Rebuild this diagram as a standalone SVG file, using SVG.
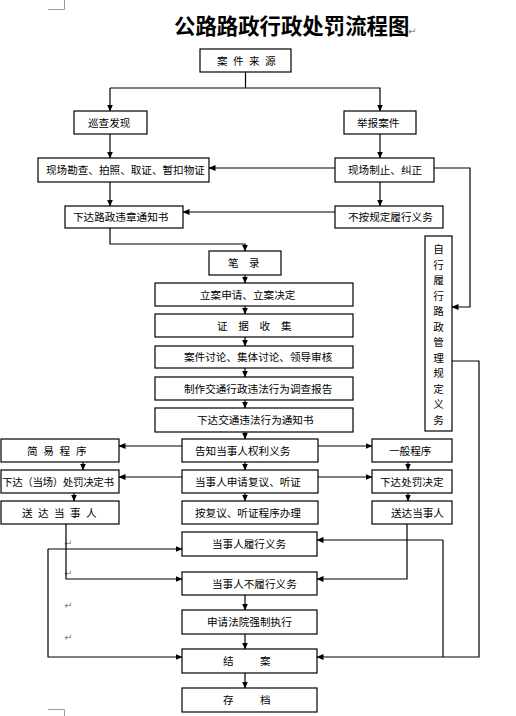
<svg xmlns="http://www.w3.org/2000/svg" width="516" height="716" viewBox="0 0 516 716">
<style>
.b{fill:#fff;stroke:#000;stroke-width:1.2}
.t{font-family:"Noto Sans CJK SC","Noto Sans",sans-serif;font-size:10.6px;fill:#000}
.c{stroke:#000;stroke-width:1.2;fill:none}
.a{marker-end:url(#ah)}
.m{font-family:"DejaVu Sans",sans-serif;font-size:10px;fill:#888}
.g{stroke:#999;stroke-width:1;fill:none}
</style>
<defs>
<marker id="ah" markerUnits="userSpaceOnUse" markerWidth="7" markerHeight="6" refX="6.5" refY="3" orient="auto">
<path d="M0,0 L7,3 L0,6 z" fill="#000"/>
</marker>
</defs>
<rect width="516" height="716" fill="#fff"/>
<path class="g" d="M48 9.5 H64.5 V0 M48 709.5 H64.5 V716"/>
<text x="174" y="34" font-family="'Noto Sans CJK SC',sans-serif" font-size="21.4" font-weight="bold" fill="#000">公路路政行政处罚流程图</text>
<text class="m" x="408" y="35">↵</text>
<text class="m" x="64" y="547">↵</text>
<text class="m" x="64" y="577">↵</text>
<text class="m" x="64" y="609">↵</text>
<text class="m" x="64" y="641">↵</text>

<g id="connectors">
<path class="c" d="M245.5 72 V88"/>
<path class="c a" d="M110 88 V111"/>
<path class="c a" d="M110 88 H380 V111"/>
<path class="c a" d="M110 134 V158"/>
<path class="c a" d="M380 134 V158"/>
<path class="c a" d="M335 168 H209"/>
<path class="c a" d="M434 168 H470 V307 H452"/>
<path class="c a" d="M110 182 V206"/>
<path class="c a" d="M380 182 V206"/>
<path class="c a" d="M335 212 H183"/>
<path class="c a" d="M110 228 V244 H245 V251"/>
<path class="c a" d="M245 275 V283"/>
<path class="c a" d="M245 306 V314"/>
<path class="c a" d="M245 337 V346"/>
<path class="c a" d="M245 368 V377"/>
<path class="c a" d="M245 400 V408"/>
<path class="c a" d="M245 432 V439"/>
<path class="c a" d="M245 462 V470"/>
<path class="c a" d="M245 493 V501"/>
<path class="c a" d="M182 446 H119"/>
<path class="c a" d="M182 477 H119"/>
<path class="c a" d="M318 446 H372"/>
<path class="c a" d="M318 477 H372"/>
<path class="c a" d="M83 462 V470"/>
<path class="c a" d="M74 493 V501"/>
<path class="c a" d="M408 462 V470"/>
<path class="c a" d="M408 493 V501"/>
<path class="c a" d="M66 524 V579 H182"/>
<path class="c a" d="M48 549 H182"/>
<path class="c a" d="M48 549 V657 H182"/>
<path class="c a" d="M407 524 V579 H317"/>
<path class="c a" d="M443 540 H317"/>
<path class="c" d="M443 540 V657"/>
<path class="c a" d="M452 361 H479 V657 H317"/>
<path class="c a" d="M245 595 V610"/>
<path class="c a" d="M245 634 V649"/>
<path class="c a" d="M245 673 V688"/>
</g>

<g id="n1"><rect class="b" x="200" y="49" width="91" height="23"/><text class="t" x="217" y="64.5" letter-spacing="5.4">案件来源</text></g>
<g id="n2"><rect class="b" x="74" y="111" width="73" height="23"/><text class="t" x="88" y="126.5">巡查发现</text></g>
<g id="n3"><rect class="b" x="344" y="111" width="72" height="23"/><text class="t" x="357" y="126.5">举报案件</text></g>
<g id="n4"><rect class="b" x="38" y="158" width="171" height="24"/><text class="t" x="46" y="174">现场勘查、拍照、取证、暂扣物证</text></g>
<g id="n5"><rect class="b" x="335" y="158" width="99" height="24"/><text class="t" x="348" y="174">现场制止、纠正</text></g>
<g id="n6"><rect class="b" x="65" y="206" width="118" height="22"/><text class="t" x="73" y="221">下达路政违章通知书</text></g>
<g id="n7"><rect class="b" x="335" y="206" width="108" height="22"/><text class="t" x="348" y="221">不按规定履行义务</text></g>
<g id="n8"><rect class="b" x="425" y="236" width="27" height="195"/>
<text class="t" x="438.5" text-anchor="middle" y="253">自</text>
<text class="t" x="438.5" text-anchor="middle" y="268.5">行</text>
<text class="t" x="438.5" text-anchor="middle" y="284">履</text>
<text class="t" x="438.5" text-anchor="middle" y="299.5">行</text>
<text class="t" x="438.5" text-anchor="middle" y="315">路</text>
<text class="t" x="438.5" text-anchor="middle" y="330.5">政</text>
<text class="t" x="438.5" text-anchor="middle" y="346">管</text>
<text class="t" x="438.5" text-anchor="middle" y="361.5">理</text>
<text class="t" x="438.5" text-anchor="middle" y="377">规</text>
<text class="t" x="438.5" text-anchor="middle" y="392.5">定</text>
<text class="t" x="438.5" text-anchor="middle" y="408">义</text>
<text class="t" x="438.5" text-anchor="middle" y="423.5">务</text>
</g>
<g id="n9"><rect class="b" x="209" y="251" width="72" height="24"/><text class="t" x="228" y="267" letter-spacing="10.5">笔录</text></g>
<g id="n10"><rect class="b" x="155" y="283" width="198" height="23"/><text class="t" x="200" y="298.5">立案申请、立案决定</text></g>
<g id="n11"><rect class="b" x="155" y="314" width="198" height="23"/><text class="t" x="217" y="329.5" letter-spacing="10.7">证据收集</text></g>
<g id="n12"><rect class="b" x="155" y="346" width="198" height="22"/><text class="t" x="184" y="361">案件讨论、集体讨论、领导审核</text></g>
<g id="n13"><rect class="b" x="155" y="377" width="198" height="23"/><text class="t" x="184" y="392.5">制作交通行政违法行为调查报告</text></g>
<g id="n14"><rect class="b" x="155" y="408" width="198" height="24"/><text class="t" x="197" y="424">下达交通违法行为通知书</text></g>
<g id="n15"><rect class="b" x="182" y="439" width="136" height="23"/><text class="t" x="195" y="454.5">告知当事人权利义务</text></g>
<g id="n16"><rect class="b" x="182" y="470" width="136" height="23"/><text class="t" x="195" y="485.5">当事人申请复议、听证</text></g>
<g id="n17"><rect class="b" x="182" y="501" width="136" height="23"/><text class="t" x="195" y="516.5">按复议、听证程序办理</text></g>
<g id="n18"><rect class="b" x="1" y="439" width="118" height="23"/><text class="t" x="27" y="454.5" letter-spacing="5.7">简易程序</text></g>
<g id="n19"><rect class="b" x="1" y="470" width="118" height="23"/><text class="t" x="2" y="485.5" letter-spacing="-0.45">下达（当场）处罚决定书</text></g>
<g id="n20"><rect class="b" x="1" y="501" width="118" height="23"/><text class="t" x="22" y="516.5" letter-spacing="5.4">送达当事人</text></g>
<g id="n21"><rect class="b" x="372" y="439" width="80" height="23"/><text class="t" x="389" y="454.5">一般程序</text></g>
<g id="n22"><rect class="b" x="372" y="470" width="80" height="23"/><text class="t" x="380" y="485.5" font-size="11">下达处罚决定</text></g>
<g id="n23"><rect class="b" x="372" y="501" width="80" height="23"/><text class="t" x="391" y="516.5">送达当事人</text></g>
<g id="n24"><rect class="b" x="182" y="532" width="135" height="24"/><text class="t" x="212" y="548">当事人履行义务</text></g>
<g id="n25"><rect class="b" x="182" y="572" width="135" height="23"/><text class="t" x="212" y="587.5">当事人不履行义务</text></g>
<g id="n26"><rect class="b" x="182" y="610" width="135" height="24"/><text class="t" x="207" y="626">申请法院强制执行</text></g>
<g id="n27"><rect class="b" x="182" y="649" width="135" height="24"/><text class="t" x="223" y="665" letter-spacing="26.4">结案</text></g>
<g id="n28"><rect class="b" x="182" y="688" width="135" height="24"/><text class="t" x="223" y="704" letter-spacing="26.4">存档</text></g>
</svg>
